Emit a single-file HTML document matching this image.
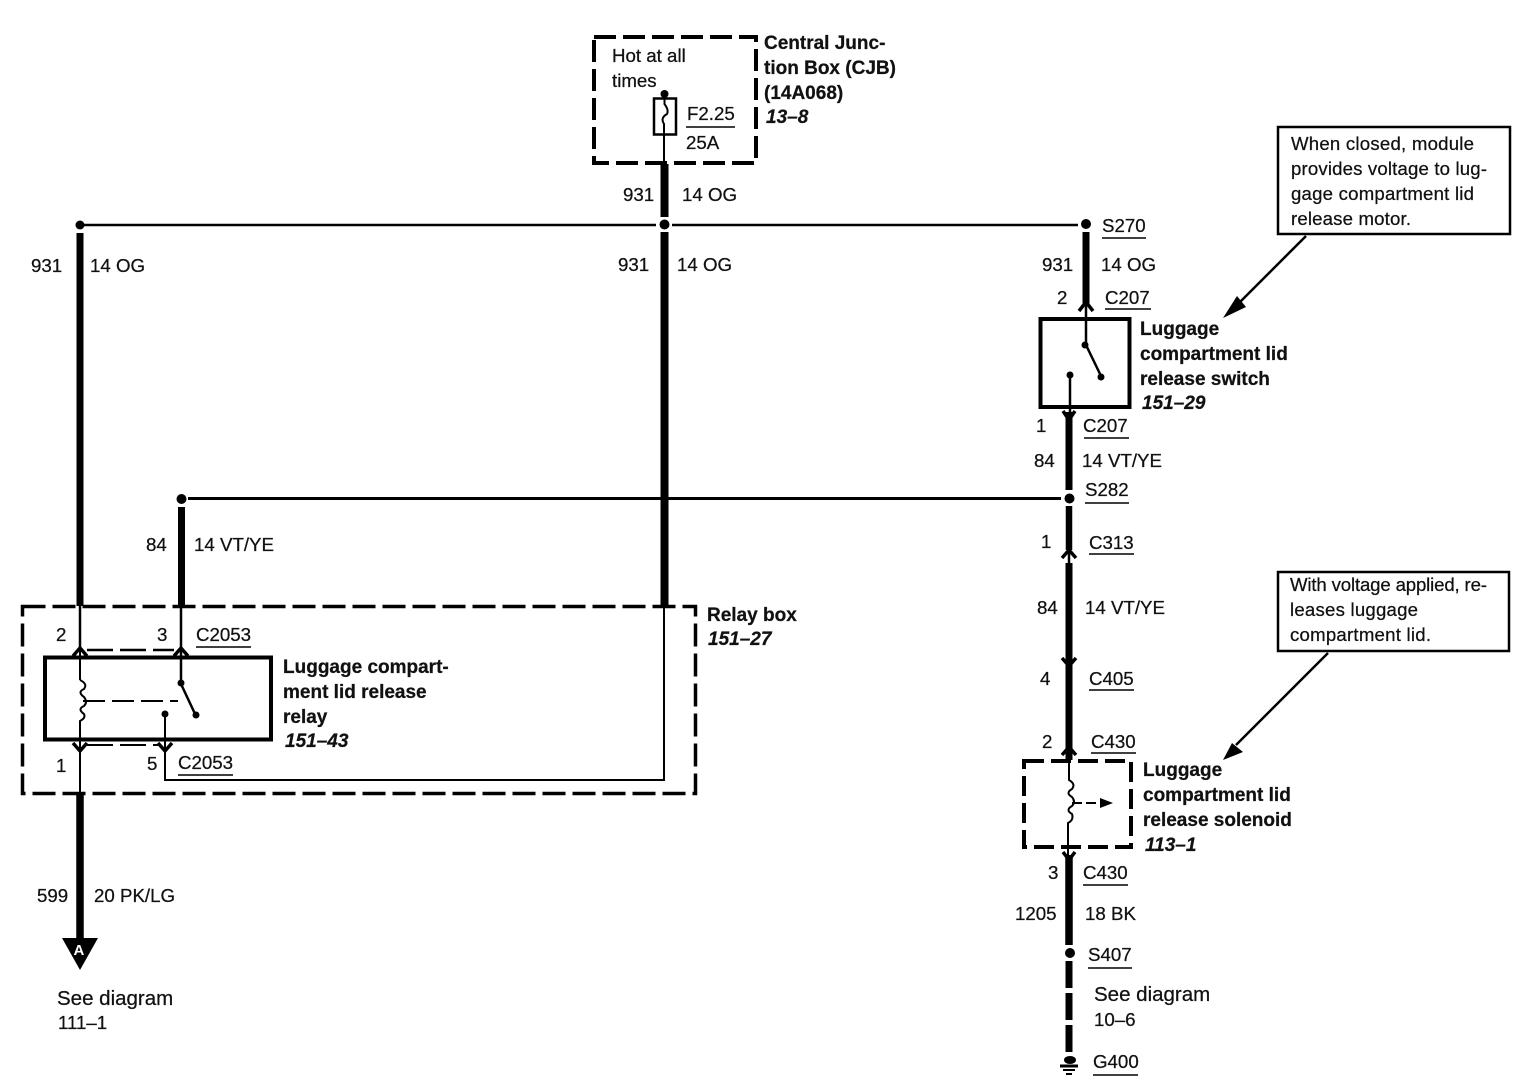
<!DOCTYPE html>
<html>
<head>
<meta charset="utf-8">
<style>
html,body{margin:0;padding:0;background:#fff}
svg{display:block}
text{font-family:"Liberation Sans",sans-serif;font-size:18.7px;fill:#111;stroke:#111;stroke-width:.25px}
.b{font-weight:bold;font-size:19px}
.bi{font-weight:bold;font-style:italic;font-size:19px}
.t{font-size:18.6px}
.s{font-size:20.5px}
</style>
</head>
<body>
<svg width="1528" height="1088" viewBox="0 0 1528 1088" xmlns="http://www.w3.org/2000/svg">
<g fill="none" stroke="#000" stroke-linecap="butt">
  <!-- dashed boxes -->
  <rect x="594" y="37" width="162" height="126" stroke-width="4" stroke-dasharray="22 7"/>
  <rect x="22.500" y="606.500" width="673" height="187" stroke-width="3.500" stroke-dasharray="23 7"/>
  <rect x="1024" y="761" width="107" height="86" stroke-width="4" stroke-dasharray="20 7"/>

  <!-- buses -->
  <path d="M80 225H656M672 225H1078" stroke-width="2.500"/>
  <path d="M188 498.500H1061" stroke-width="3"/>

  <!-- thick wires -->
  <path d="M80 233V606" stroke-width="7"/>
  <path d="M664.500 164V217" stroke-width="8"/>
  <path d="M664.500 232V606" stroke-width="8"/>
  <path d="M181.500 507V606" stroke-width="7"/>
  <path d="M80 794V940" stroke-width="7.500"/>
  <path d="M1086 232V304" stroke-width="7"/>
  <path d="M1069 412V490" stroke-width="7"/>
  <path d="M1069 506V550" stroke-width="6.500"/>
  <path d="M1069 563V760" stroke-width="7"/>
  <path d="M1069 855V945" stroke-width="7.500"/>
  <path d="M1069 961V1054" stroke-width="7" stroke-dasharray="27 5"/>

  <!-- CJB fuse -->
  <rect x="654" y="98.500" width="22" height="36" stroke-width="2.500"/>
  <path d="M664.500 95V104Q669 110 667 114Q660 118 664 124V164" stroke-width="2"/>
  <path d="M686 127H735" stroke-width="1.500"/>

  <!-- relay -->
  <rect x="45" y="657.500" width="226" height="82" stroke-width="4"/>
  <path d="M80 606V650" stroke-width="2.500"/>
  <path d="M80 650V680" stroke-width="2"/>
  <path d="M181 606V682" stroke-width="2.500"/>
  <path d="M73 656L80 648L87 656M174 656L181 648L188 656" stroke-width="3.500"/>
  <path d="M87 650H174" stroke-width="2.500" stroke-dasharray="26 7"/>
  <path d="M80 680Q88 684 84 689Q77 692 84 697Q88 702 84 706Q77 709 84 714Q86 718 80 721V793" stroke-width="2"/>
  <path d="M83 701H178" stroke-width="2" stroke-dasharray="22 7"/>
  <path d="M181 684L196 716" stroke-width="2.500"/>
  <path d="M165 714V780H664V606" stroke-width="2"/>
  <path d="M73 743L80 751L87 743M158 743L165 751L172 743" stroke-width="3.500"/>
  <path d="M87 745H158" stroke-width="2" stroke-dasharray="26 7"/>

  <!-- switch -->
  <rect x="1040.500" y="319" width="89" height="88" stroke-width="4"/>
  <path d="M1086 300V345" stroke-width="2.500"/>
  <path d="M1086 345L1101 376" stroke-width="2.500"/>
  <path d="M1070 376V412" stroke-width="2.500"/>
  <path d="M1079 311L1086 302L1093 311" stroke-width="3.500"/>
  <path d="M1063 411L1069 420L1075 411" stroke-width="3.500"/>
  <!-- C313/C405 fork marks -->
  <path d="M1069 548V563" stroke-width="2.500"/>
  <path d="M1062 558L1069 550L1076 558" stroke-width="3.500"/>
  <path d="M1062 658L1069 666L1076 658" stroke-width="3.500"/>

  <!-- solenoid -->
  <path d="M1069 755V780Q1076 784 1072 789Q1065 793 1072 797Q1076 802 1072 806Q1065 810 1072 814Q1074 820 1068 823V856" stroke-width="2"/>
  <path d="M1062 755L1069 747L1076 755" stroke-width="3.500"/>
  <path d="M1063 852L1069 860L1075 852" stroke-width="3.500"/>
  <path d="M1072 803H1102" stroke-width="2" stroke-dasharray="10 4"/>

  <!-- note boxes -->
  <rect x="1278" y="127" width="232" height="107" stroke-width="2.500"/>
  <rect x="1278" y="572" width="231" height="79" stroke-width="2.500"/>
  <path d="M1306 236L1236 306" stroke-width="2.500"/>
  <path d="M1328 653L1236 745" stroke-width="2.500"/>

  <!-- ground -->
  <path d="M1060 1066H1078" stroke-width="3"/>
  <path d="M1063 1070H1075" stroke-width="2"/>
  <path d="M1066 1074H1072" stroke-width="2"/>

  <!-- underlines -->
  <path d="M1102 238H1146M1105 309H1151M1084 438H1129M1085 503H1129M1089 554H1134M1089 690H1134M1091 753H1136M1083 885H1128M1088 968H1132M1093 1075H1138M196 647H251M178 775H233" stroke-width="1.500"/>
</g>

<g fill="#000" stroke="none">
  <circle cx="664.500" cy="94" r="4"/>
  <circle cx="80" cy="225" r="4.500"/>
  <circle cx="664.500" cy="224.500" r="5"/>
  <circle cx="1086" cy="224" r="5"/>
  <circle cx="181.500" cy="499" r="5"/>
  <circle cx="1069.500" cy="498.500" r="5"/>
  <circle cx="1070" cy="953" r="5"/>
  <circle cx="181" cy="683" r="3.500"/>
  <circle cx="196" cy="715" r="3.500"/>
  <circle cx="165" cy="714" r="3.500"/>
  <circle cx="1085" cy="345" r="3.500"/>
  <circle cx="1101" cy="377" r="3.500"/>
  <circle cx="1070" cy="375" r="3.500"/>
  <ellipse cx="1070" cy="1060" rx="6" ry="4"/>
  <path d="M62 938H98L80 970Z"/>
  <path d="M1113 803L1100 798V808Z"/>
  <path d="M1223 318L1237 296L1246 307Z"/>
  <path d="M1223 760L1232 743L1243 752Z"/>
</g>

<!-- CJB -->
<text x="612" y="62">Hot at all</text>
<text x="612" y="87">times</text>
<text x="687" y="120">F2.25</text>
<text x="686" y="149">25A</text>
<text class="b" x="764" y="49">Central Junc-</text>
<text class="b" x="764" y="74">tion Box (CJB)</text>
<text class="b" x="764" y="99">(14A068)</text>
<text class="bi" x="766" y="123">13–8</text>
<text x="623" y="201">931</text>
<text x="682" y="201">14 OG</text>

<!-- top row -->
<text x="31" y="272">931</text>
<text x="90" y="272">14 OG</text>
<text x="618" y="271">931</text>
<text x="677" y="271">14 OG</text>
<text x="1102" y="232">S270</text>
<text x="1042" y="271">931</text>
<text x="1101" y="271">14 OG</text>
<text x="1057" y="304">2</text>
<text x="1105" y="304">C207</text>

<!-- switch labels -->
<text class="b" x="1140" y="335">Luggage</text>
<text class="b" x="1140" y="360">compartment lid</text>
<text class="b" x="1140" y="385">release switch</text>
<text class="bi" x="1142" y="409">151–29</text>
<text x="1036" y="432">1</text>
<text x="1083" y="432">C207</text>
<text x="1034" y="467">84</text>
<text x="1082" y="467">14 VT/YE</text>
<text x="1085" y="496">S282</text>
<text x="1041" y="548">1</text>
<text x="1089" y="549">C313</text>
<text x="1037" y="614">84</text>
<text x="1085" y="614">14 VT/YE</text>
<text x="1040" y="685">4</text>
<text x="1089" y="685">C405</text>
<text x="1042" y="748">2</text>
<text x="1091" y="748">C430</text>

<!-- solenoid labels -->
<text class="b" x="1143" y="776">Luggage</text>
<text class="b" x="1143" y="801">compartment lid</text>
<text class="b" x="1143" y="826">release solenoid</text>
<text class="bi" x="1145" y="851">113–1</text>
<text x="1048" y="879">3</text>
<text x="1083" y="879">C430</text>
<text x="1015" y="920">1205</text>
<text x="1085" y="920">18 BK</text>
<text x="1088" y="961">S407</text>
<text class="s" x="1094" y="1001">See diagram</text>
<text x="1094" y="1026">10–6</text>
<text x="1093" y="1068">G400</text>

<!-- left -->
<text x="146" y="551">84</text>
<text x="194" y="551">14 VT/YE</text>
<text x="56" y="641">2</text>
<text x="157" y="641">3</text>
<text x="196" y="641">C2053</text>
<text class="b" x="707" y="621">Relay box</text>
<text class="bi" x="708" y="645">151–27</text>
<text class="b" x="283" y="673">Luggage compart-</text>
<text class="b" x="283" y="698">ment lid release</text>
<text class="b" x="283" y="723">relay</text>
<text class="bi" x="285" y="747">151–43</text>
<text x="56" y="772">1</text>
<text x="147" y="770">5</text>
<text x="178" y="769">C2053</text>
<text x="37" y="902">599</text>
<text x="94" y="902">20 PK/LG</text>
<text x="73.500" y="955" style="fill:#fff;stroke:none;font-weight:bold;font-size:15px">A</text>
<text class="s" x="57" y="1005">See diagram</text>
<text x="58" y="1029">111–1</text>

<!-- notes -->
<text class="t" x="1291" y="150" textLength="183">When closed, module</text>
<text class="t" x="1291" y="175" textLength="196">provides voltage to lug-</text>
<text class="t" x="1291" y="200" textLength="183">gage compartment lid</text>
<text class="t" x="1291" y="225" textLength="120">release motor.</text>
<text class="t" x="1290" y="591" textLength="197">With voltage applied, re-</text>
<text class="t" x="1290" y="616" textLength="128">leases luggage</text>
<text class="t" x="1290" y="641" textLength="141">compartment lid.</text>
</svg>
</body>
</html>
